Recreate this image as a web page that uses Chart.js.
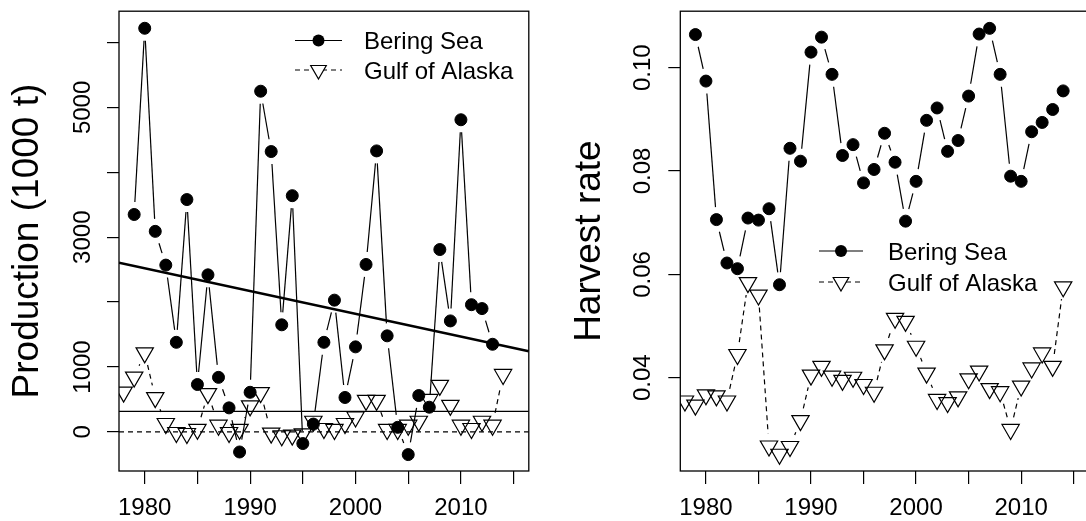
<!DOCTYPE html>
<html>
<head>
<meta charset="utf-8">
<script src="https://cdn.jsdelivr.net/npm/chart.js"></script>
<style>
  html, body { margin: 0; padding: 0; background: #fff; overflow: hidden; }
  .panel { position: absolute; top: 0; }
  #left { left: 0; }
  #right { left: 560px; }
</style>
</head>
<body>
<div class="panel" id="left"><canvas id="prodChart" width="540" height="521"></canvas></div>
<div class="panel" id="right"><canvas id="rateChart" width="540" height="521"></canvas></div>
<script>
const FONT = '"Liberation Sans", Arial, Helvetica, sans-serif';

// shared year axis
const xRange = [1977.56, 2016.44];
const xTickYears = [1980, 1985, 1990, 1995, 2000, 2005, 2010, 2015];
const xLabelYears = [1980, 1990, 2000, 2010];

// production (1000 t)
const bsProdYears = [1979, 1980, 1981, 1982, 1983, 1984, 1985, 1986, 1987, 1988, 1989, 1990,
  1991, 1992, 1993, 1994, 1995, 1996, 1997, 1998, 1999, 2000, 2001, 2002, 2003, 2004, 2005,
  2006, 2007, 2008, 2009, 2010, 2011, 2012, 2013];
const bsProd = [3350, 6220, 3090, 2570, 1380, 3580, 730, 2420, 840, 370, -310, 610,
  5250, 4320, 1650, 3640, -180, 120, 1380, 2030, 530, 1310, 2580, 4330, 1480, 70, -350,
  560, 380, 2810, 1710, 4810, 1960, 1900, 1350];
const goaProdYears = [1978, 1979, 1980, 1981, 1982, 1983, 1984, 1985, 1986, 1987, 1988, 1989,
  1990, 1991, 1992, 1993, 1994, 1995, 1996, 1997, 1998, 1999, 2000, 2001, 2002, 2003, 2004,
  2005, 2006, 2007, 2008, 2009, 2010, 2011, 2012, 2013, 2014];
const goaProd = [613, 844, 1218, 528, 129, -10, -25, 40, 589, 103, -10, 40,
  400, 605, -20, -60, -50, -30, 164, 52, 37, 129, 230, 486, 486, 37, 37,
  103, 164, 500, 716, 409, 103, 52, 164, 103, 885];
const trendYears = [1977.56, 2016.44];
const trendProd = [2607, 1242];
const goaMeanProd = 317;
const prodRange = [-603, 6483];
const prodTicks = [0, 1000, 2000, 3000, 4000, 5000, 6000];
const prodTickLabels = [0, 1000, 3000, 5000];

// harvest rate
const bsRateYears = [1979, 1980, 1981, 1982, 1983, 1984, 1985, 1986, 1987, 1988, 1989, 1990,
  1991, 1992, 1993, 1994, 1995, 1996, 1997, 1998, 1999, 2000, 2001, 2002, 2003, 2004, 2005,
  2006, 2007, 2008, 2009, 2010, 2011, 2012, 2013, 2014];
const bsRate = [0.1064, 0.0974, 0.0706, 0.0622, 0.0611, 0.0709, 0.0705, 0.0727, 0.0580, 0.0844,
  0.0819, 0.1030, 0.1059, 0.0987, 0.0830, 0.0851, 0.0777, 0.0803, 0.0873, 0.0817, 0.0703,
  0.0780, 0.0898, 0.0922, 0.0838, 0.0859, 0.0945, 0.1065, 0.1076, 0.0987, 0.0790, 0.0780,
  0.0876, 0.0894, 0.0919, 0.0955];
const goaRateYears = goaProdYears;
const goaRate = [0.0355, 0.0347, 0.0367, 0.0365, 0.0355, 0.0445, 0.0584, 0.0560, 0.0268, 0.0252,
  0.0267, 0.0317, 0.0405, 0.0422, 0.0403, 0.0395, 0.0401, 0.0387, 0.0372, 0.0454, 0.0515,
  0.0509, 0.0461, 0.0409, 0.0358, 0.0352, 0.0363, 0.0398, 0.0413, 0.0379, 0.0373, 0.0300,
  0.0384, 0.0419, 0.0448, 0.0422, 0.0576];
const rateRange = [0.02196, 0.11092];
const rateTicks = [0.04, 0.06, 0.08, 0.10];
const rateTickLabels = [0.04, 0.06, 0.08, 0.10];

function pairs(xs, ys) {
  return xs.map((x, i) => ({ x: x, y: ys[i] }));
}

// draws the R-style "type b" segments (stopping short of each marker),
// the plot box, the rotated y labels and the legend
const decor = {
  id: 'decor',
  beforeDatasetsDraw(chart) {
    const ctx = chart.ctx, a = chart.chartArea;
    ctx.save();
    ctx.beginPath();
    ctx.rect(a.left, a.top, a.right - a.left, a.bottom - a.top);
    ctx.clip();
    chart.data.datasets.forEach((ds, i) => {
      if (!ds.gap) return;
      const pts = chart.getDatasetMeta(i).data;
      ctx.strokeStyle = '#000';
      ctx.lineWidth = 1.2;
      ctx.setLineDash(ds.segDash || []);
      for (let k = 1; k < pts.length; k++) {
        const p = pts[k - 1], q = pts[k];
        const dx = q.x - p.x, dy = q.y - p.y, len = Math.hypot(dx, dy);
        if (len <= 2 * ds.gap) continue;
        const f = ds.gap / len;
        ctx.beginPath();
        ctx.moveTo(p.x + dx * f, p.y + dy * f);
        ctx.lineTo(q.x - dx * f, q.y - dy * f);
        ctx.stroke();
      }
    });
    ctx.restore();
  },
  afterDraw(chart, args, opts) {
    const ctx = chart.ctx, a = chart.chartArea, ys = chart.scales.y;
    ctx.save();
    ctx.strokeStyle = '#000';
    ctx.lineWidth = 1.3;
    ctx.setLineDash([]);
    ctx.strokeRect(a.left, a.top, a.right - a.left, a.bottom - a.top);

    ctx.fillStyle = '#000';
    ctx.font = '24px ' + FONT;
    ctx.textAlign = 'center';
    ctx.textBaseline = 'alphabetic';
    opts.yLabels.forEach(v => {
      ctx.save();
      ctx.translate(opts.yLabelX, ys.getPixelForValue(v));
      ctx.rotate(-Math.PI / 2);
      ctx.fillText(v.toFixed(opts.yDigits), 0, 0);
      ctx.restore();
    });

    // legend
    const lg = opts.legend;
    const series = chart.data.datasets.filter(ds => ds.gap);
    series.forEach((ds, i) => {
      const y = lg.rows[i];
      const mx = (lg.x1 + lg.x2) / 2;
      ctx.strokeStyle = '#000';
      ctx.lineWidth = 1.2;
      ctx.setLineDash(ds.segDash || []);
      ctx.beginPath();
      ctx.moveTo(lg.x1, y);
      ctx.lineTo(lg.x2, y);
      ctx.stroke();
      ctx.setLineDash([]);
      ctx.beginPath();
      if (ds.pointStyle === 'circle') {
        ctx.arc(mx, y, ds.pointRadius, 0, Math.PI * 2);
        ctx.fill();
      } else {
        const r = lg.triRadius;
        ctx.moveTo(mx, y + r);
        ctx.lineTo(mx + r * Math.sin(Math.PI / 3), y - r / 2);
        ctx.lineTo(mx - r * Math.sin(Math.PI / 3), y - r / 2);
        ctx.closePath();
        ctx.fillStyle = '#fff';
        ctx.fill();
        ctx.stroke();
        ctx.fillStyle = '#000';
      }
      ctx.textAlign = 'left';
      ctx.fillText(ds.label, lg.textX, y + 8.8);
    });
    ctx.restore();
  }
};

function seriesSets(bsX, bsY, goaX, goaY) {
  return [
    {
      label: 'Bering Sea', data: pairs(bsX, bsY), showLine: false, gap: 12.5,
      pointStyle: 'circle', pointRadius: 6, pointBackgroundColor: '#000',
      pointBorderColor: '#000', pointBorderWidth: 1, clip: 0, order: 1
    },
    {
      label: 'Gulf of Alaska', data: pairs(goaX, goaY), showLine: false, gap: 12.5,
      segDash: [5, 4], pointStyle: 'triangle', pointRotation: 180, pointRadius: 10,
      pointBackgroundColor: 'rgba(0,0,0,0)', pointBorderColor: '#000',
      pointBorderWidth: 1.2, clip: 0, order: 0
    }
  ];
}

function hLine(y, width, dash) {
  return {
    data: pairs(xRange, [y, y]), showLine: true, borderColor: '#000', borderWidth: width,
    borderDash: dash, pointRadius: 0, clip: 0, order: 2
  };
}

function xScale() {
  return {
    type: 'linear', min: xRange[0], max: xRange[1], bounds: 'data',
    afterBuildTicks: s => { s.ticks = xTickYears.map(v => ({ value: v })); },
    afterFit: s => { s.height = 50; s.paddingLeft = 0; s.paddingRight = 0; },
    border: { display: false },
    grid: { drawOnChartArea: false, drawTicks: true, tickLength: 13, color: '#000', lineWidth: 1.2 },
    ticks: {
      autoSkip: false, maxRotation: 0, minRotation: 0, padding: 10, color: '#000',
      font: { family: FONT, size: 24 },
      callback: v => xLabelYears.includes(v) ? String(v) : ''
    }
  };
}

function yScale(range, tickVals, width, title, pad) {
  return {
    type: 'linear', min: range[0], max: range[1], bounds: 'data',
    afterBuildTicks: s => { s.ticks = tickVals.map(v => ({ value: v })); },
    afterFit: s => { s.width = width; s.paddingTop = 0; s.paddingBottom = 0; },
    border: { display: false },
    grid: { drawOnChartArea: false, drawTicks: true, tickLength: 12, color: '#000', lineWidth: 1.2 },
    ticks: { display: false },
    title: {
      display: true, text: title, color: '#000',
      font: { family: FONT, size: 37 }, padding: { top: pad, bottom: 0 }
    }
  };
}

const prodSets = seriesSets(bsProdYears, bsProd, goaProdYears, goaProd);
prodSets.push(hLine(0, 1.2, [5, 4]));
prodSets.push(hLine(goaMeanProd, 1.2, []));
prodSets.push({
  data: pairs(trendYears, trendProd), showLine: true, borderColor: '#000', borderWidth: 2.6,
  pointRadius: 0, clip: 0, order: 2
});

new Chart(document.getElementById('prodChart'), {
  type: 'scatter',
  data: { datasets: prodSets },
  plugins: [decor],
  options: {
    responsive: false,
    animation: false,
    events: [],
    layout: { padding: { top: 9, right: 9.3, bottom: 0, left: 0 } },
    scales: {
      x: xScale(),
      y: yScale(prodRange, prodTicks, 119, 'Production (1000 t)', 6)
    },
    plugins: {
      legend: { display: false },
      tooltip: { enabled: false },
      decor: {
        yLabels: prodTickLabels, yDigits: 0, yLabelX: 90,
        legend: { rows: [40.5, 70], x1: 295, x2: 342, textX: 364, triRadius: 9 }
      }
    }
  }
});

new Chart(document.getElementById('rateChart'), {
  type: 'scatter',
  data: { datasets: seriesSets(bsRateYears, bsRate, goaRateYears, goaRate) },
  plugins: [decor],
  options: {
    responsive: false,
    animation: false,
    events: [],
    layout: { padding: { top: 9, right: 8, bottom: 0, left: 0 } },
    scales: {
      x: xScale(),
      y: yScale(rateRange, rateTicks, 120.3, 'Harvest rate', 7.5)
    },
    plugins: {
      legend: { display: false },
      tooltip: { enabled: false },
      decor: {
        yLabels: rateTickLabels, yDigits: 2, yLabelX: 90,
        legend: { rows: [251, 282], x1: 259, x2: 303, textX: 328, triRadius: 9 }
      }
    }
  }
});
</script>
</body>
</html>
